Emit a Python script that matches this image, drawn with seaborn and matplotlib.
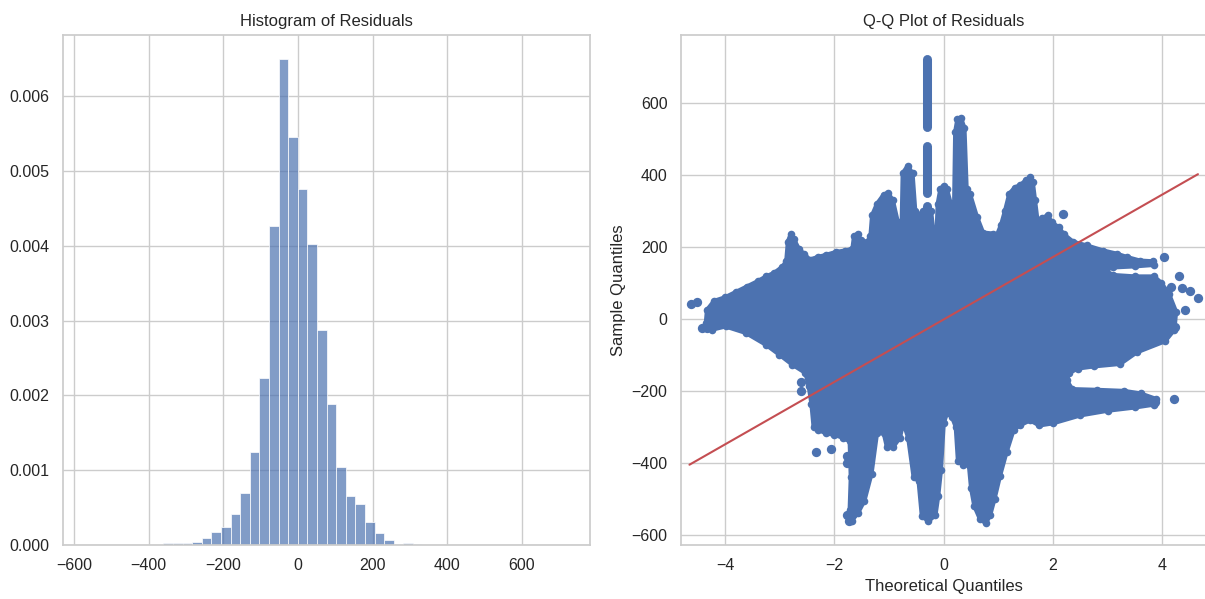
import numpy as np
import pandas as pd
import matplotlib
matplotlib.use("Agg")
import matplotlib.pyplot as plt
import seaborn as sns

# ---------------- Histogram data (density per bin) ----------------
bin_start = -566
bin_width = 25.7
hist_density = [
    0, 0, 0, 0, 0, 0, 0, 0,
    0.000025, 0.000025, 0.000025, 0.000045, 0.00010, 0.00017, 0.00024, 0.00041,
    0.00070, 0.00124, 0.00223, 0.00427, 0.00650, 0.00546, 0.00476, 0.00403,
    0.00288, 0.00189, 0.00104, 0.00066, 0.00055, 0.00031, 0.00016, 0.00007,
    0.00002, 0.00003, 0.00002,
    0, 0, 0, 0, 0, 0, 0, 0, 0, 0, 0, 0, 0, 0, 0,
]

# ---------------- Q-Q plot data ----------------
# outline of the dense cloud of points: top edge (left -> right, incl. right arms)
blob_top_x = [-4.35, -4.33, -4.2, -4.0, -3.8, -3.6, -3.4, -3.25, -3.1, -2.95, -2.88, -2.85, -2.8,
              -2.74, -2.65, -2.55, -2.45, -2.3, -2.15, -1.97, -1.8, -1.67, -1.64, -1.57, -1.52,
              -1.4, -1.34, -1.31, -1.22, -1.1, -1.02, -0.93, -0.84, -0.77, -0.75, -0.66, -0.57,
              -0.52, -0.43, -0.37, -0.23, -0.18, -0.13, -0.11, -0.06, 0.0, 0.06, 0.13, 0.19,
              0.21, 0.25, 0.32, 0.38, 0.42, 0.48, 0.61, 0.72, 0.9, 0.97, 1.05, 1.12, 1.2, 1.3,
              1.4, 1.5, 1.58, 1.63, 1.67, 1.72, 1.8, 1.9, 1.98, 2.1, 2.2, 2.37, 2.62, 2.92,
              3.17, 3.35, 3.59, 3.83, 3.85, 3.5, 3.1, 2.95, 3.1, 3.5, 3.85, 3.98, 4.12, 4.25,
              4.22, 4.05]
blob_top_y = [-10, 25, 50, 60, 75, 90, 105, 118, 128, 145, 160, 215, 235,
              222, 195, 180, 165, 172, 178, 186, 190, 195, 230, 237, 218,
              214, 230, 288, 320, 345, 350, 330, 270, 255, 405, 425, 405,
              300, 290, 300, 300, 228, 240, 320, 362, 370, 360, 320, 312,
              520, 555, 557, 530, 360, 348, 283, 240, 237, 232, 262, 300, 348, 365,
              372, 385, 393, 380, 330, 268, 280, 288, 268, 255, 235, 214, 204, 190,
              181, 172, 162, 160, 150, 146, 143, 135, 122, 118, 118, 100, 70, 20,
              -30, -62]
# bottom edge (right -> left, incl. lower right arm)
blob_bottom_x = [3.53, 3.23, 2.74, 2.45, 2.3, 2.25, 2.35, 2.8, 3.3, 3.6, 3.88, 3.85, 3.5, 3.0,
                 2.5, 2.0, 1.75, 1.58, 1.4, 1.28, 1.15, 1.03, 0.93, 0.85, 0.77, 0.66, 0.56,
                 0.5, 0.46, 0.36, 0.26, 0.22, 0.15, 0.06, 0.0, -0.05, -0.1, -0.15, -0.28,
                 -0.4, -0.46, -0.55, -0.65, -0.74, -0.8, -0.92, -1.04, -1.1, -1.22, -1.32,
                 -1.45, -1.57, -1.68, -1.72, -1.7, -1.72, -1.85, -2.0, -2.15, -2.3, -2.38,
                 -2.42, -2.47, -2.53, -2.77, -3.01, -3.25, -3.62, -3.99, -4.24]
blob_bottom_y = [-93, -125, -132, -138, -150, -170, -195, -197, -200, -207, -222, -238, -246, -255,
                 -268, -290, -296, -282, -295, -308, -370, -436, -500, -545, -568, -555, -520,
                 -470, -405, -405, -395, -300, -272, -262, -290, -420, -492, -545, -562,
                 -548, -450, -440, -330, -288, -330, -355, -355, -316, -318, -430,
                 -505, -540, -560, -530, -440, -340, -330, -322, -318, -308, -300,
                 -235, -186, -150, -127, -99, -72, -39, -21, -30]

# narrow vertical column of points near x = -0.3 (with gaps)
spike_x = [-0.30, -0.30, -0.30]
spike_lo = [240, 351, 532]
spike_hi = [313, 480, 721]

# isolated points
dot_x = [-4.63, -4.51, -4.42, -4.33, -2.61, -2.61, -2.34, -2.07, -1.77, -1.77, -1.76, -1.74,
         2.18, 4.03, 4.31, 4.15, 4.35, 4.5, 4.66, 4.42, 4.23, 4.21, 3.87]
dot_y = [42, 46, -24, -24, -175, -200, -371, -362, -380, -400, -545, -562,
         292, 172, 118, 88, 86, 77, 58, 26, -23, -223, -232]

# reference line
line_x = [-4.65, 4.65]
line_y = [-405, 402]

# ---------------- Plot ----------------
sns.set_theme(style="whitegrid")
plt.rcParams['font.family'] = ['Liberation Sans', 'DejaVu Sans']

W, H = 1205, 599
fig = plt.figure(figsize=(W / 100, H / 100), dpi=100)
ax1 = fig.add_axes([62.7 / W, (H - 545) / H, 527.7 / W, 510.5 / H])
ax2 = fig.add_axes([680.7 / W, (H - 545) / H, 526.0 / W, 510.5 / H])

blue = sns.color_palette("deep")[0]
red = sns.color_palette("deep")[3]

# Histogram
n_bins = len(hist_density)
centers = [bin_start + bin_width * (i + 0.5) for i in range(n_bins)]
hist_df = pd.DataFrame({"residual": centers, "density": hist_density})
sns.histplot(data=hist_df, x="residual", weights="density", binwidth=bin_width,
             binrange=(bin_start, bin_start + bin_width * n_bins), ax=ax1, color=blue,
             alpha=0.7, edgecolor="white", linewidth=0.5)
ax1.set_ylabel("")
ax1.set_xlabel("")
ax1.set_title("Histogram of Residuals", fontsize=12)

# Q-Q plot
poly_x = blob_top_x + blob_bottom_x
poly_y = blob_top_y + blob_bottom_y
ax2.fill(poly_x, poly_y, facecolor=blue, edgecolor=blue, linewidth=3, joinstyle="round", zorder=2)
sns.scatterplot(x=poly_x, y=poly_y, s=30, color=blue, linewidth=0, ax=ax2, zorder=2)
for sx, lo, hi in zip(spike_x, spike_lo, spike_hi):
    ax2.plot([sx, sx], [lo, hi], color=blue, linewidth=6.5, solid_capstyle="round", zorder=2)
sns.scatterplot(x=dot_x, y=dot_y, s=45, color=blue, linewidth=0, ax=ax2, zorder=2)
sns.lineplot(x=line_x, y=line_y, color=red, linewidth=1.5, ax=ax2, zorder=3)
ax2.set_xlim(-4.81, 4.81)
ax2.set_ylim(-628, 790)
ax2.set_xticks([-4, -2, 0, 2, 4])
ax2.set_yticks([-600, -400, -200, 0, 200, 400, 600])
ax2.set_xlabel("Theoretical Quantiles", fontsize=12)
ax2.set_ylabel("Sample Quantiles", fontsize=12)
ax2.set_title("Q-Q Plot of Residuals", fontsize=12)

for ax in (ax1, ax2):
    ax.tick_params(labelsize=11.5)

fig.savefig("out.png", dpi=100)
